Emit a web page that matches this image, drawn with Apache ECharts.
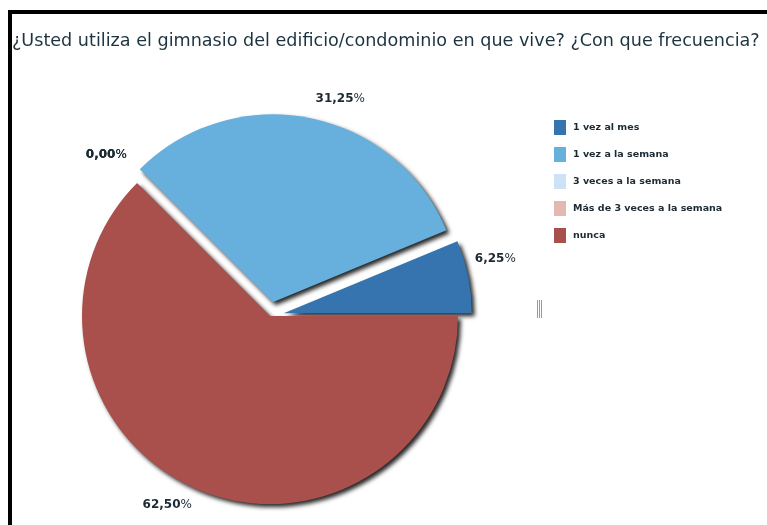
<!DOCTYPE html>
<html>
<head>
<meta charset="utf-8">
<script src="https://cdn.jsdelivr.net/npm/echarts@6/dist/echarts.min.js"></script>
<style>
  html, body { margin: 0; padding: 0; background: #ffffff; }
  #chart { width: 767px; height: 525px; }
</style>
</head>
<body>
<div id="chart"></div>
<script>
// Survey answers: how often residents use the building gym
const titleText = '¿Usted utiliza el gimnasio del edificio/condominio en que vive? ¿Con que frecuencia?';
const categories = ['1 vez al mes', '1 vez a la semana', '3 veces a la semana', 'Más de 3 veces a la semana', 'nunca'];
const percentages = [6.25, 31.25, 0, 0, 62.5];
const colors = ['#3574ae', '#67afdd', '#cde3f5', '#e3b8b1', '#aa504c'];
const pulledOut = [true, true, true, true, false];

const fmt = v => v.toFixed(2).replace('.', ',');

// small nudges applied to the outside percentage labels
const labelShift = {
  0: { dx: -14, dy: -15 },
  1: { dx: -2, dy: -3 },
  2: { dx: 16, dy: -7 },
  3: { dx: 16, dy: -7 },
  4: { dx: 5, dy: 0 }
};

const chart = echarts.init(document.getElementById('chart'), null, { renderer: 'canvas' });

chart.setOption({
  animation: false,
  backgroundColor: '#ffffff',
  color: colors,
  title: {
    text: titleText,
    left: 7,
    top: 27,
    textStyle: {
      fontFamily: 'DejaVu Sans',
      fontSize: 17.6,
      fontWeight: 'normal',
      color: '#1d3440'
    }
  },
  legend: {
    orient: 'vertical',
    left: 549,
    top: 115,
    itemWidth: 12,
    itemHeight: 15,
    itemGap: 12,
    icon: 'rect',
    data: categories,
    textStyle: {
      fontFamily: 'DejaVu Sans',
      fontSize: 9.5,
      fontWeight: 'bold',
      color: '#1b2a33',
      padding: [0, 0, 0, 2]
    }
  },
  graphic: [
    {
      type: 'rect',
      silent: true,
      z: 100,
      shape: { x: 10, y: 12, width: 800, height: 600 },
      style: { fill: 'none', stroke: '#000000', lineWidth: 4 }
    },
    {
      type: 'group',
      silent: true,
      children: [537.5, 539.5, 541.5].map(x => ({
        type: 'line',
        shape: { x1: x, y1: 300, x2: x, y2: 318 },
        style: { stroke: '#9a9a9a', lineWidth: 1 }
      }))
    }
  ],
  series: [{
    type: 'pie',
    center: [270, 316],
    radius: 188,
    startAngle: 0,
    clockwise: false,
    selectedMode: 'multiple',
    selectedOffset: 14,
    avoidLabelOverlap: false,
    emphasis: { disabled: true },
    itemStyle: {
      shadowColor: 'rgba(0,0,0,0.85)',
      shadowBlur: 4,
      shadowOffsetX: 3,
      shadowOffsetY: 3
    },
    label: {
      show: true,
      position: 'outside',
      formatter: p => '{n|' + fmt(p.value) + '}{p|%}',
      rich: {
        n: { fontFamily: 'DejaVu Sans', fontSize: 12, fontWeight: 'bold', color: '#1b2a33' },
        p: { fontFamily: 'DejaVu Sans', fontSize: 12, fontWeight: 'normal', color: '#1b2a33' }
      }
    },
    labelLine: { show: false, length: 16, length2: 0 },
    labelLayout: p => labelShift[p.dataIndex] || {},
    data: categories.map((name, i) => ({
      name: name,
      value: percentages[i],
      selected: pulledOut[i]
    }))
  }]
});
</script>
</body>
</html>
